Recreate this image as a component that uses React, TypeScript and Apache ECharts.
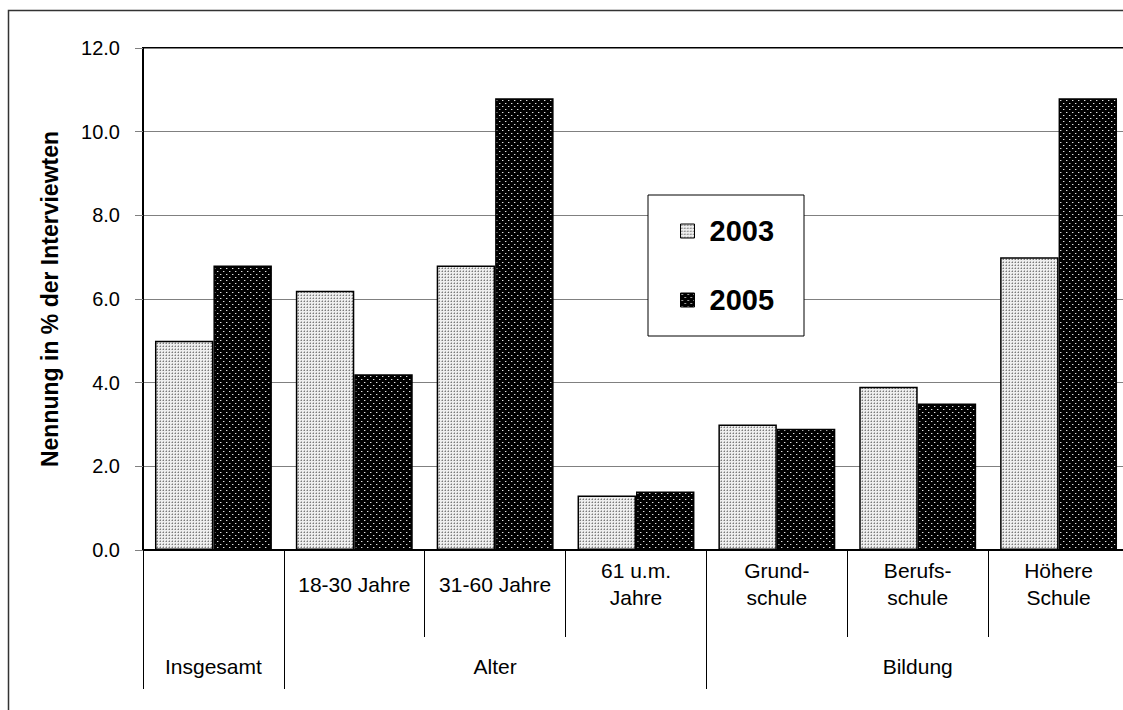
import React, { useEffect, useRef } from "react";
import * as echarts from "echarts";

const categories = ["", "18-30 Jahre", "31-60 Jahre", "61 u.m.\nJahre", "Grund-\nschule", "Berufs-\nschule", "Höhere\nSchule"];
const groupLabels = ["Insgesamt", "", "Alter", "", "", "Bildung", ""];
const groupBoundaries = [0, 1, 4];
const series2003 = [5.0, 6.2, 6.8, 1.3, 3.0, 3.9, 7.0];
const series2005 = [6.8, 4.2, 10.8, 1.4, 2.9, 3.5, 10.8];
const yTicks = [0, 2, 4, 6, 8, 10, 12];

const FONT = "'Liberation Sans', Arial, sans-serif";
const CHART_W = 1140;

function makePattern(kind: "light" | "dark") {
  const c = document.createElement("canvas");
  if (kind === "light") {
    c.width = 3;
    c.height = 3;
    const g = c.getContext("2d")!;
    g.fillStyle = "#eeeeee";
    g.fillRect(0, 0, 3, 3);
    g.fillStyle = "#7a7a7a";
    g.fillRect(1, 1, 1, 1);
    g.fillStyle = "#b8b8b8";
    g.fillRect(1, 0, 1, 1);
    g.fillRect(0, 1, 1, 1);
  } else {
    c.width = 6;
    c.height = 6;
    const g = c.getContext("2d")!;
    g.fillStyle = "#000";
    g.fillRect(0, 0, 6, 6);
    g.fillStyle = "#e0e0e0";
    g.fillRect(1, 1, 1, 1);
    g.fillRect(4, 4, 1, 1);
    g.fillStyle = "#555";
    g.fillRect(2, 1, 1, 1);
    g.fillRect(5, 4, 1, 1);
  }
  return { image: c, repeat: "repeat" as const };
}

export default function App() {
  const ref = useRef<HTMLDivElement>(null);
  useEffect(() => {
    if (!ref.current) return;
    const chart = echarts.init(ref.current, null, { renderer: "svg" });
    const light = makePattern("light");
    const dark = makePattern("dark");
    chart.setOption({
      animation: false,
      backgroundColor: "#fff",
      textStyle: { fontFamily: FONT },
      grid: {
        left: 143,
        top: 48,
        right: CHART_W - 1129,
        bottom: 160,
        show: true,
        borderColor: "#000",
        borderWidth: 2,
        backgroundColor: "transparent",
      },
      legend: {
        left: 648,
        top: 195,
        orient: "vertical",
        padding: [20, 30, 20, 32],
        itemGap: 37,
        itemWidth: 14,
        itemHeight: 14,
        icon: "rect",
        borderColor: "#000",
        borderWidth: 1,
        backgroundColor: "#fff",
        textStyle: { fontSize: 29, fontWeight: "bold", color: "#000", fontFamily: FONT, lineHeight: 32, padding: [0, 0, 0, 10] },
        itemStyle: { borderColor: "#000", borderWidth: 1 },
      },
      xAxis: [
        {
          type: "category",
          data: categories,
          position: "bottom",
          axisLine: { show: true, lineStyle: { color: "#000", width: 2 } },
          axisTick: { show: true, length: 87, lineStyle: { color: "#000", width: 1 } },
          axisLabel: {
            interval: 0,
            margin: 34,
            verticalAlign: "middle",
            color: "#000",
            fontSize: 21,
            lineHeight: 27,
            fontFamily: FONT,
          },
        },
        {
          type: "category",
          data: groupLabels,
          position: "bottom",
          axisLine: { show: false },
          axisTick: {
            show: true,
            length: 139,
            interval: (i: number) => groupBoundaries.indexOf(i) >= 0,
            lineStyle: { color: "#000", width: 1 },
          },
          axisLabel: {
            interval: 0,
            margin: 116,
            verticalAlign: "middle",
            color: "#000",
            fontSize: 21,
            fontFamily: FONT,
          },
        },
      ],
      yAxis: {
        type: "value",
        min: 0,
        max: 12,
        interval: 2,
        name: "Nennung in % der Interviewten",
        nameLocation: "middle",
        nameGap: 82,
        nameRotate: 90,
        nameTextStyle: { fontSize: 23, fontWeight: "bold", color: "#000", fontFamily: FONT },
        axisLine: { show: true, lineStyle: { color: "#000", width: 2 } },
        axisTick: { show: true, length: 8, lineStyle: { color: "#808080", width: 1 } },
        splitLine: { show: true, lineStyle: { color: "#808080", width: 1 } },
        axisLabel: {
          margin: 23,
          color: "#000",
          fontSize: 20,
          fontFamily: FONT,
          formatter: (v: number) => (yTicks.indexOf(v) >= 0 ? v.toFixed(1) : ""),
        },
      },
      series: [
        {
          name: "2003",
          type: "bar",
          data: series2003,
          barGap: "0%",
          barCategoryGap: "17%",
          itemStyle: { color: light, borderColor: "#000", borderWidth: 1.5 },
        },
        {
          name: "2005",
          type: "bar",
          data: series2005,
          barGap: "0%",
          barCategoryGap: "17%",
          itemStyle: { color: dark, borderColor: "#000", borderWidth: 1.5 },
        },
      ],
      graphic: [
        {
          type: "rect",
          silent: true,
          z: 100,
          shape: { x: 8.5, y: 10.5, width: 1300, height: 900 },
          style: { fill: "none", stroke: "#333", lineWidth: 1.5 },
        },
      ],
    });
    return () => chart.dispose();
  }, []);
  return (
    <div style={{ position: "fixed", left: 0, top: 0, width: 1123, height: 710, overflow: "hidden", background: "#fff" }}>
      <div ref={ref} style={{ width: CHART_W, height: 710 }} />
    </div>
  );
}
